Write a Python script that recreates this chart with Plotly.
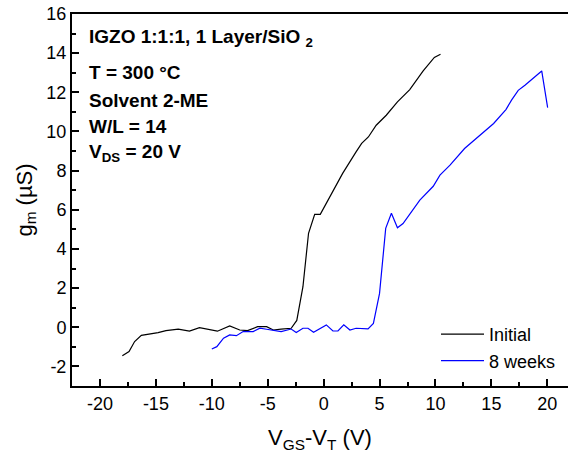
import plotly.graph_objects as go

# Transconductance vs. overdrive voltage, initial and after 8 weeks
vov_initial = [-18.0, -17.4, -16.9, -16.3, -14.8, -14.1, -13.0, -12.0, -11.1, -10.4,
               -9.5, -8.4, -7.5, -6.8, -5.9, -5.1, -4.5, -3.8, -2.9, -2.4,
               -1.85, -1.35, -0.8, -0.3, 0.7, 1.7, 2.9, 3.4, 4.0, 4.7,
               5.6, 6.6, 7.7, 8.3, 8.9, 9.9, 10.45]
gm_initial = [-1.45, -1.24, -0.73, -0.41, -0.27, -0.17, -0.10, -0.20, -0.02, -0.09,
              -0.20, 0.07, -0.14, -0.17, 0.03, 0.03, -0.14, -0.10, -0.05, 0.35,
              2.07, 4.80, 5.77, 5.77, 6.84, 7.86, 8.96, 9.39, 9.72, 10.32,
              10.83, 11.51, 12.14, 12.62, 13.09, 13.78, 13.94]

vov_8weeks = [-10.0, -9.55, -8.95, -8.4, -7.8, -7.2, -6.3, -5.7, -5.1, -3.8,
              -2.9, -2.45, -1.85, -1.4, -0.9, 0.24, 0.83, 1.28, 1.8, 2.35,
              2.9, 3.97, 4.45, 5.0, 5.55, 6.06, 6.6, 7.1, 8.6, 9.8,
              10.4, 11.3, 12.6, 14.0, 15.2, 16.3, 16.8, 17.4, 18.0, 19.5, 20.03]
gm_8weeks = [-1.11, -0.99, -0.56, -0.39, -0.43, -0.22, -0.22, -0.05, -0.10, -0.22,
             -0.09, -0.27, -0.05, -0.05, -0.26, 0.12, -0.19, -0.19, 0.12, -0.14,
             -0.05, -0.08, 0.20, 1.73, 5.05, 5.82, 5.08, 5.30, 6.49, 7.20,
             7.77, 8.28, 9.13, 9.81, 10.41, 11.12, 11.60, 12.10, 12.36, 13.09, 11.22]

series_names = ["Initial", "8 weeks"]

# Tick positions and labels (plain hyphen as minus sign)
x_tick_vals = [-20, -15, -10, -5, 0, 5, 10, 15, 20]
x_tick_text = ["-20", "-15", "-10", "-5", "0", "5", "10", "15", "20"]
y_tick_vals = [-2, 0, 2, 4, 6, 8, 10, 12, 14, 16]
y_tick_text = ["-2", "0", "2", "4", "6", "8", "10", "12", "14", "16"]

info_lines = [
    "IGZO 1:1:1, 1 Layer/SiO <sub>2</sub>",
    "T = 300 °C",
    "Solvent 2-ME",
    "W/L = 14",
    "V<sub>DS</sub> = 20 V",
]

FONT = "Liberation Sans, Arial, Helvetica, sans-serif"

fig = go.Figure()
fig.add_trace(go.Scatter(x=vov_initial, y=gm_initial, mode="lines", name=series_names[0],
                         line=dict(color="#000000", width=1.2)))
fig.add_trace(go.Scatter(x=vov_8weeks, y=gm_8weeks, mode="lines", name=series_names[1],
                         line=dict(color="#0000ff", width=1.2)))

W, H = 568, 456
ml, mr, mt, mb = 72, 0, 14, 70
ph = H - mt - mb

def py(pix):
    return 1 - (pix - mt) / ph

info_y = [38, 72.5, 100, 126.7, 153.3]
annotations = []
for txt, yy in zip(info_lines, info_y):
    annotations.append(dict(
        text=f"<b>{txt}</b>", xref="paper", yref="paper",
        x=(87 - ml) / (W - ml - mr), y=py(yy), xanchor="left", yanchor="middle",
        showarrow=False, font=dict(family=FONT, size=19, color="black")))

minor_ticks = dict(tickmode="linear", tick0=0, ticks="inside",
                   ticklen=4, tickwidth=1.5, tickcolor="black")

fig.update_layout(
    width=W, height=H,
    margin=dict(l=ml, r=mr, t=mt, b=mb, pad=0),
    paper_bgcolor="white", plot_bgcolor="white",
    font=dict(family=FONT, color="black"),
    showlegend=True,
    legend=dict(x=(436 - ml) / (W - ml - mr), y=py(316), xanchor="left", yanchor="top",
                bgcolor="rgba(0,0,0,0)", borderwidth=0,
                font=dict(family=FONT, size=18, color="black"),
                itemwidth=43, tracegroupgap=0),
    annotations=annotations,
    xaxis=dict(
        range=[-22.5, 21.85], tickmode="array", tickvals=x_tick_vals, ticktext=x_tick_text,
        ticks="inside", ticklen=7, tickwidth=1.5, tickcolor="black",
        minor=dict(dtick=2.5, **minor_ticks),
        showline=True, linewidth=2, linecolor="black", mirror=True,
        showgrid=False, zeroline=False,
        tickfont=dict(family=FONT, size=18, color="black"),
        title=dict(text="V<sub>GS</sub>-V<sub>T</sub> (V)",
                   font=dict(family=FONT, size=22, color="black"), standoff=17),
    ),
    yaxis=dict(
        range=[-3, 16], tickmode="array", tickvals=y_tick_vals, ticktext=y_tick_text,
        ticks="inside", ticklen=7, tickwidth=1.5, tickcolor="black",
        minor=dict(dtick=1, **minor_ticks),
        showline=True, linewidth=2, linecolor="black", mirror=False,
        showgrid=False, zeroline=False,
        tickfont=dict(family=FONT, size=18, color="black"),
        title=dict(text="g<sub>m</sub> (µS)",
                   font=dict(family=FONT, size=22, color="black"), standoff=8),
    ),
)

fig.write_html("out.html")
